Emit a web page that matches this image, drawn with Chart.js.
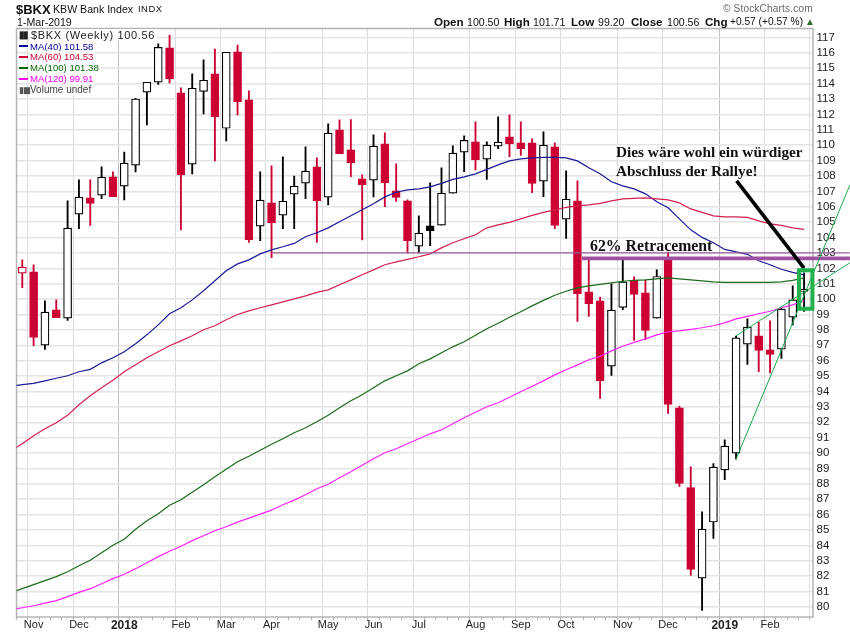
<!DOCTYPE html>
<html>
<head>
    <title>$BKX KBW Bank Index</title>
    <script src="https://cdn.jsdelivr.net/npm/chart.js"></script>
    <style>
        html, body { margin: 0; padding: 0; background: #fff; overflow: hidden; }
        #wrap { position: relative; width: 850px; height: 633px; font-family: "Liberation Sans", Arial, sans-serif; color: #111; }
        canvas { position: absolute; left: 0; top: 0; }
        .t { position: absolute; white-space: nowrap; line-height: 12px; font-size: 10.6px; }
        .b { font-weight: bold; font-size: 11.6px; }
        .row { background: rgba(255,255,255,0.85); font-size: 9.6px; left: 30px; padding-right: 2px; }
        .sw { position: absolute; left: 19px; width: 9px; height: 2px; }
        .note { font-family: "Liberation Serif", "Times New Roman", serif; font-weight: bold; font-size: 15.3px; line-height: 18px; }
    </style>
</head>
<body>
<div id="wrap">
    <canvas id="chart" width="850" height="633"></canvas>

    <div class="t" style="left:16px;top:3px;font-size:13px;font-weight:bold;line-height:13px">$BKX</div>
    <div class="t" style="left:53px;top:3px">KBW Bank Index</div>
    <div class="t" style="left:138px;top:3px;font-size:9.4px;letter-spacing:.5px">INDX</div>
    <div class="t" style="left:17px;top:16px">1-Mar-2019</div>
    <div class="t" style="left:723px;top:3px;color:#666;font-size:10px;letter-spacing:.2px">&copy; StockCharts.com</div>

    <div class="t b" style="left:434px;top:16px">Open</div>
    <div class="t" style="left:467px;top:16px">100.50</div>
    <div class="t b" style="left:504px;top:16px">High</div>
    <div class="t" style="left:533px;top:16px">101.71</div>
    <div class="t b" style="left:571px;top:16px">Low</div>
    <div class="t" style="left:598px;top:16px">99.20</div>
    <div class="t b" style="left:631px;top:16px">Close</div>
    <div class="t" style="left:667px;top:16px">100.56</div>
    <div class="t b" style="left:705px;top:16px">Chg</div>
    <div class="t" style="left:730px;top:16px;font-size:10.2px">+0.57 (+0.57 %)</div>
    <div class="t" style="left:805px;top:16px;color:#2e6b2e;font-size:10px">&#9650;</div>

    <div class="t row" style="top:29px;left:31px;font-size:11px;letter-spacing:.65px;color:#222">$BKX (Weekly) 100.56</div>
    <div class="t" style="top:29px;left:19px;font-size:10px;font-weight:bold;letter-spacing:-2px;color:#222">▮▮</div>
    <div class="t row" style="top:41px;color:#000099">MA(40) 101.58</div>
    <div class="sw" style="top:45px;background:#000099"></div>
    <div class="t row" style="top:51px;color:#cc0033">MA(60) 104.53</div>
    <div class="sw" style="top:56px;background:#cc0033"></div>
    <div class="t row" style="top:62px;color:#006600">MA(100) 101.38</div>
    <div class="sw" style="top:67px;background:#006600"></div>
    <div class="t row" style="top:73px;color:#ff00ff">MA(120) 99.91</div>
    <div class="sw" style="top:78px;background:#ff00ff"></div>
    <div class="t row" style="top:84px;color:#444;font-size:10px">Volume undef</div>
    <div class="t" style="top:84px;left:19px;font-size:9px;letter-spacing:-1.5px;color:#555">▮▮▮</div>

    <div class="t note" style="left:616px;top:143px">Dies wäre wohl ein würdiger</div>
    <div class="t note" style="left:616px;top:162px">Abschluss der Rallye!</div>
    <div class="t note" style="left:590px;top:237px;font-size:15.8px">62% Retracement</div>
</div>

<script>
    // weekly candles, first week is 27 Oct 2017, last week is 1 Mar 2019
    const opens = [101.69, 101.77, 97.01, 99.31, 98.77, 105.52, 106.58, 106.75, 107.94, 107.34,
        108.7, 113.44, 114.09, 116.32, 113.4, 108.77, 113.5, 114.63, 111.1, 116.06,
        112.94, 104.74, 106.25, 105.45, 106.82, 107.53, 108.59, 106.62, 111.0, 109.7,
        107.81, 107.73, 110.08, 107.03, 106.39, 103.44, 104.76, 104.81, 106.88, 109.55,
        110.21, 109.09, 109.94, 110.54, 110.15, 110.15, 107.66, 109.89, 105.19, 106.38,
        100.47, 99.89, 95.65, 99.46, 101.23, 100.41, 98.77, 102.66, 92.94, 87.75,
        81.88, 85.52, 88.9, 90.0, 97.08, 97.62, 96.71, 96.75, 98.83, 100.5];
    const highs = [102.55, 102.23, 99.89, 99.95, 106.38, 107.75, 107.75, 108.59, 108.27, 109.56,
        113.05, 114.09, 116.58, 117.16, 113.72, 114.63, 115.54, 116.25, 116.04, 116.51,
        113.53, 108.27, 108.66, 109.24, 108.0, 109.89, 109.18, 111.39, 111.64, 111.67,
        108.07, 110.67, 110.8, 108.79, 106.45, 105.41, 107.55, 108.53, 109.95, 110.6,
        111.51, 110.21, 111.84, 111.97, 111.51, 110.41, 110.86, 110.15, 108.33, 107.68,
        102.66, 100.13, 100.99, 102.55, 101.45, 101.23, 101.9, 103.05, 93.03, 89.11,
        86.19, 89.31, 90.86, 97.6, 98.72, 98.5, 98.59, 99.4, 100.86, 101.71];
    const lows = [100.75, 96.97, 96.73, 98.79, 98.61, 104.58, 104.78, 106.53, 106.66, 106.45,
        108.27, 111.32, 113.94, 114.05, 104.5, 108.14, 112.03, 108.98, 110.28, 111.97,
        103.68, 103.8, 102.7, 104.58, 104.58, 106.53, 103.68, 106.12, 109.45, 107.96,
        103.85, 106.64, 106.0, 106.34, 103.0, 103.0, 103.48, 104.81, 106.88, 108.28,
        108.4, 107.77, 109.78, 109.26, 109.33, 106.92, 106.66, 104.58, 103.94, 98.55,
        98.87, 93.55, 95.04, 99.32, 97.31, 97.36, 98.77, 92.57, 87.83, 82.05,
        79.78, 84.45, 88.27, 89.6, 95.75, 95.28, 95.2, 96.14, 98.33, 99.2];
    const closes = [102.08, 97.51, 99.16, 98.79, 104.61, 106.62, 106.21, 107.92, 106.66, 108.83,
        113.0, 114.09, 116.36, 114.3, 108.09, 113.7, 114.22, 111.86, 116.04, 112.83,
        103.87, 106.43, 104.97, 106.36, 107.34, 108.31, 106.4, 110.78, 109.45, 108.87,
        107.44, 109.94, 107.57, 106.6, 103.8, 104.29, 104.45, 106.88, 109.48, 110.32,
        109.06, 110.0, 110.2, 110.1, 109.78, 107.51, 110.0, 104.78, 106.49, 100.36,
        99.71, 94.71, 99.29, 101.12, 100.3, 97.96, 101.47, 93.16, 88.03, 82.44,
        85.06, 89.09, 90.45, 97.49, 98.18, 96.66, 96.4, 99.35, 99.95, 100.56];
    const closeBeforeFirst = 102.5;

    // moving averages start one week earlier, that point is off the left edge
    const ma40 = [94.34, 94.44, 94.53, 94.69, 94.86, 95.02, 95.28, 95.44, 95.86, 96.19, 96.58,
        97.10, 97.68, 98.33, 99.05, 99.44, 99.95, 100.54, 101.19, 101.84, 102.29,
        102.55, 102.94, 103.20, 103.40, 103.62, 104.05, 104.31, 104.63, 105.02, 105.41,
        105.80, 106.19, 106.64, 106.94, 107.10, 107.16, 107.29, 107.52, 107.78, 107.94,
        108.14, 108.43, 108.72, 108.98, 109.11, 109.18, 109.21, 109.21, 109.18, 108.98,
        108.53, 108.14, 107.62, 107.36, 107.16, 106.84, 106.32, 105.93, 105.21, 104.50,
        104.01, 103.66, 103.23, 103.07, 102.91, 102.49, 102.23, 101.94, 101.74, 101.58];
    const ma60 = [90.15, 90.60, 91.12, 91.58, 91.97, 92.45, 93.14, 93.72, 94.24, 94.73, 95.28,
        95.73, 96.19, 96.58, 96.97, 97.29, 97.62, 98.01, 98.27, 98.66, 99.00,
        99.24, 99.44, 99.63, 99.82, 100.02, 100.21, 100.44, 100.60, 100.93, 101.25,
        101.58, 101.90, 102.23, 102.42, 102.58, 102.75, 102.94, 103.33, 103.66, 103.92,
        104.18, 104.63, 104.82, 104.99, 105.21, 105.44, 105.64, 105.80, 105.96, 106.06,
        106.12, 106.22, 106.38, 106.51, 106.55, 106.58, 106.51, 106.45, 106.25, 105.86,
        105.64, 105.41, 105.34, 105.34, 105.31, 105.08, 104.89, 104.79, 104.63, 104.53];
    const ma100 = [80.93, 81.19, 81.45, 81.71, 81.97, 82.29, 82.68, 83.04, 83.53, 84.01, 84.40,
        85.05, 85.60, 86.06, 86.61, 86.97, 87.45, 87.94, 88.46, 88.95, 89.44,
        89.79, 90.18, 90.57, 90.93, 91.32, 91.64, 92.03, 92.45, 92.94, 93.40,
        93.79, 94.24, 94.69, 95.02, 95.34, 95.80, 96.12, 96.51, 96.90, 97.23,
        97.65, 98.07, 98.43, 98.82, 99.18, 99.56, 99.92, 100.25, 100.51, 100.73,
        100.86, 100.96, 101.06, 101.16, 101.22, 101.25, 101.32, 101.38, 101.32, 101.25,
        101.19, 101.12, 101.09, 101.09, 101.09, 101.09, 101.09, 101.12, 101.22, 101.38];
    const ma120 = [79.82, 79.95, 80.08, 80.25, 80.41, 80.67, 80.95, 81.19, 81.51, 81.84, 82.13,
        82.49, 82.88, 83.27, 83.62, 83.95, 84.31, 84.63, 84.95, 85.21, 85.51,
        85.77, 86.03, 86.29, 86.64, 86.94, 87.29, 87.68, 87.97, 88.40, 88.79,
        89.21, 89.63, 90.02, 90.28, 90.60, 90.93, 91.25, 91.51, 91.90, 92.29,
        92.65, 93.01, 93.27, 93.62, 93.98, 94.34, 94.69, 95.08, 95.41, 95.73,
        96.06, 96.29, 96.64, 96.94, 97.19, 97.42, 97.68, 97.88, 97.94, 98.04,
        98.14, 98.27, 98.46, 98.72, 98.88, 99.05, 99.21, 99.44, 99.63, 99.91];

    // hand drawn lines on the chart, x is the week number
    const retraceThin = [{x: 22, y: 103.0}, {x: 73.05, y: 103.0}];
    const retraceThick = [{x: 49.4, y: 102.65}, {x: 73.05, y: 102.65}];
    const trendSteep = [{x: 63, y: 89.6}, {x: 73.05, y: 107.42}];
    const trendFlat = [{x: 63, y: 97.62}, {x: 73.05, y: 102.36}];
    const arrowLine = [{x: 63.05, y: 107.68}, {x: 69, y: 102.01}];
    const targetBox = [{x: 68.55, y: 101.87}, {x: 69.74, y: 101.87}, {x: 69.74, y: 99.37},
        {x: 68.55, y: 99.37}, {x: 68.55, y: 101.87}, {x: 69.74, y: 101.87}];

    // axis ticks
    const monthWeeks = [1, 5, 9, 14, 18, 22, 27, 31, 35, 40, 44, 48, 53, 57, 62, 66];
    const monthLabels = ['Nov', 'Dec', '2018', 'Feb', 'Mar', 'Apr', 'May', 'Jun', 'Jul', 'Aug', 'Sep', 'Oct', 'Nov', 'Dec', '2019', 'Feb'];
    const yearLabels = ['2018', '2019'];
    const priceTicks = [80, 81, 82, 83, 84, 85, 86, 87, 88, 89, 90, 91, 92, 93, 94, 95, 96, 97, 98,
        99, 100, 101, 102, 103, 104, 105, 106, 107, 108, 109, 110, 111, 112, 113, 114, 115, 116, 117];

    const RED = '#cc0033';
    const BLACK = '#000000';

    function candleColor(i) {
        const prev = i === 0 ? closeBeforeFirst : closes[i - 1];
        return closes[i] < prev ? RED : BLACK;
    }

    function labelFor(week) {
        const pos = monthWeeks.indexOf(week);
        return pos === -1 ? '' : monthLabels[pos];
    }

    function isYearTick(ctx) {
        return !!ctx.tick && yearLabels.includes(labelFor(ctx.tick.value));
    }

    function maSeries(values, color, order) {
        return {
            type: 'line',
            data: values.map((v, i) => ({x: i - 1, y: v})),
            borderColor: color,
            borderWidth: 1.2,
            pointRadius: 0,
            tension: 0,
            order: order
        };
    }

    function drawnLine(points, color, width, order) {
        return {
            type: 'line',
            data: points,
            borderColor: color,
            borderWidth: width,
            pointRadius: 0,
            tension: 0,
            clip: false,
            order: order
        };
    }

    // draws the frame around the plot
    const framePlugin = {
        id: 'frame',
        beforeDatasetsDraw(chart) {
            const a = chart.chartArea;
            const ctx = chart.ctx;
            ctx.save();
            ctx.strokeStyle = '#b4b4b4';
            ctx.lineWidth = 1.5;
            ctx.strokeRect(a.left, a.top, a.right - a.left, a.bottom - a.top);
            ctx.restore();
        }
    };

    const weeks = opens.map((o, i) => i);

    new Chart(document.getElementById('chart').getContext('2d'), {
        type: 'bar',
        data: {
            datasets: [
                {
                    data: weeks.map(i => ({x: i, y: [lows[i], highs[i]]})),
                    backgroundColor: weeks.map(candleColor),
                    barThickness: 1.2,
                    order: 20
                },
                {
                    data: weeks.map(i => ({x: i, y: [opens[i], closes[i]]})),
                    backgroundColor: weeks.map(i => closes[i] < opens[i] ? candleColor(i) : '#ffffff'),
                    borderColor: weeks.map(candleColor),
                    borderWidth: 1.2,
                    borderSkipped: false,
                    barThickness: 8,
                    minBarLength: 2,
                    order: 19
                },
                maSeries(ma40, '#1a1a99', 18),
                maSeries(ma60, '#d42050', 17),
                maSeries(ma100, '#1c6b1c', 16),
                maSeries(ma120, '#ff22ff', 15),
                drawnLine(retraceThin, '#96609a', 1.2, 14),
                drawnLine(retraceThick, '#a050a0', 3.6, 13),
                drawnLine(trendSteep, '#18a848', 1, 12),
                drawnLine(trendFlat, '#18a848', 1, 11),
                drawnLine(arrowLine, '#000000', 3.6, 10),
                drawnLine(targetBox, '#22b14c', 4, 9)
            ]
        },
        options: {
            responsive: false,
            devicePixelRatio: 1,
            animation: false,
            grouped: false,
            layout: {padding: {left: 16.5, top: 28.5, right: 0, bottom: 0}},
            plugins: {legend: {display: false}, tooltip: {enabled: false}},
            scales: {
                x: {
                    type: 'linear',
                    offset: false,
                    min: -0.51,
                    max: 69.79,
                    afterBuildTicks: scale => { scale.ticks = weeks.map(w => ({value: w})); },
                    afterFit: scale => { scale.height = 16; },
                    border: {display: false},
                    grid: {
                        color: ctx => {
                            if (!ctx.tick) return '#dcdcdc';
                            const label = labelFor(ctx.tick.value);
                            if (label === '') return 'rgba(0,0,0,0)';
                            return yearLabels.includes(label) ? '#c0c0c0' : '#dcdcdc';
                        },
                        tickColor: '#b4b4b4',
                        tickLength: 3
                    },
                    ticks: {
                        autoSkip: false,
                        maxRotation: 0,
                        padding: -2,
                        color: '#222',
                        font: ctx => ({
                            family: '"Liberation Sans"',
                            size: isYearTick(ctx) ? 12 : 11,
                            weight: isYearTick(ctx) ? 'bold' : 'normal'
                        }),
                        callback: value => labelFor(value)
                    }
                },
                y: {
                    position: 'right',
                    min: 79.35,
                    max: 117.58,
                    afterBuildTicks: scale => { scale.ticks = priceTicks.map(v => ({value: v})); },
                    afterFit: scale => { scale.width = 37; },
                    border: {display: false},
                    grid: {color: '#e4e4e4', lineWidth: 1.5, drawTicks: false},
                    ticks: {
                        autoSkip: false,
                        padding: 3.5,
                        color: '#222',
                        font: {family: '"Liberation Sans"', size: 11.5},
                        callback: value => String(value)
                    }
                }
            }
        },
        plugins: [framePlugin]
    });
</script>
</body>
</html>
